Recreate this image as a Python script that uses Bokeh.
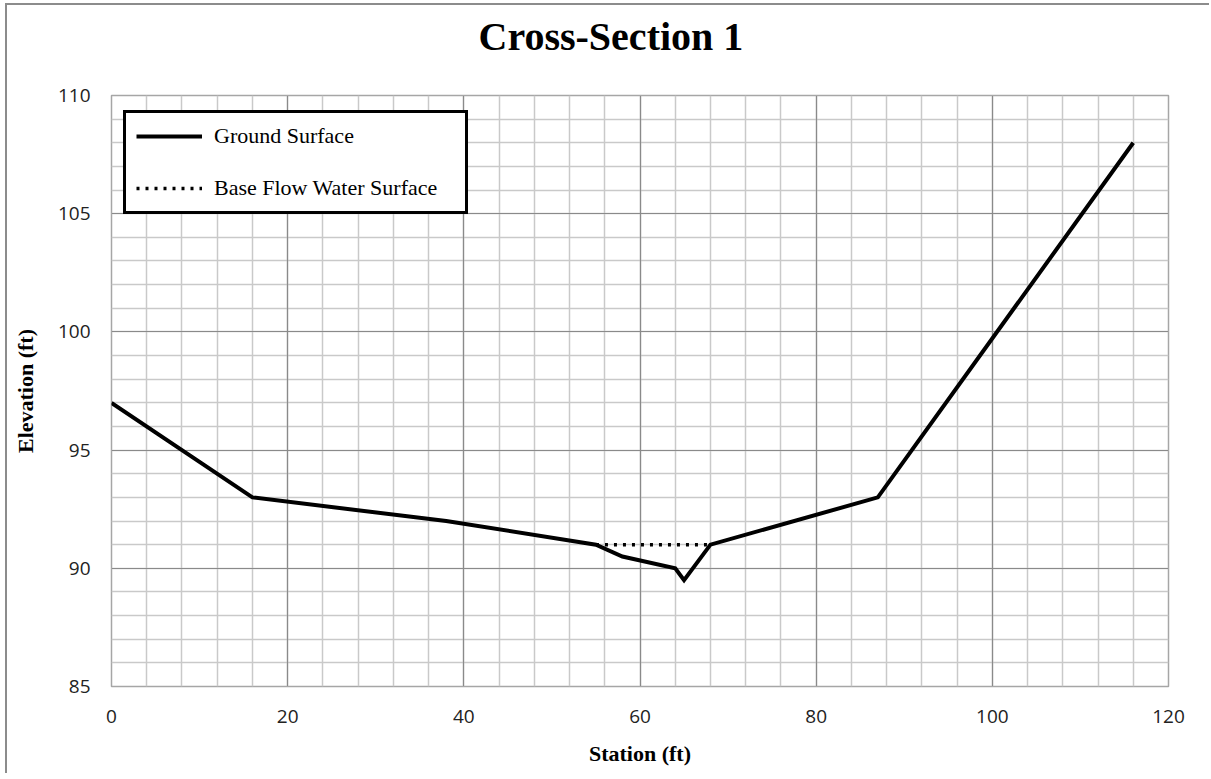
from bokeh.plotting import figure
from bokeh.models import Range1d, SingleIntervalTicker, Grid, Legend, LegendItem, Title
from bokeh.embed import file_html
from bokeh.resources import INLINE

# Data
station = [0, 16, 38, 55, 58, 64, 65, 68, 87, 116]
elevation = [97, 93, 92, 91, 90.5, 90, 89.5, 91, 93, 108]
water_station = [55, 68]
water_elevation = [91, 91]

title_text = "Cross-Section 1"
x_label = "Station (ft)"
y_label = "Elevation (ft)"
series_names = ["Ground Surface", "Base Flow Water Surface"]

p = figure(width=1204, height=770, output_backend="svg", toolbar_location=None,
           x_range=Range1d(0, 120), y_range=Range1d(85, 110),
           min_border_left=104, min_border_right=43, min_border_top=90, min_border_bottom=89)
p.title = None

p.styles = {"box-shadow": "-2px -2px 0 0 #8c8c8c",
            "margin-left": "7px", "margin-top": "5px",
            "clip-path": "inset(-3px 0px 0px -3px)"}

# spacer panel next to the frame, then the chart title above it
p.add_layout(Title(text=" ", text_font_size="1px", standoff=34), "above")
p.add_layout(Title(text=title_text, align="left", text_font="Liberation Serif",
                   text_font_size="40px", text_font_style="bold", text_color="black",
                   offset=367, standoff=0), "above")

xt = SingleIntervalTicker(interval=20, num_minor_ticks=5)
yt = SingleIntervalTicker(interval=5, num_minor_ticks=5)
p.xaxis.ticker = xt
p.yaxis.ticker = yt

# minor grids from default grids
p.xgrid.ticker = xt
p.ygrid.ticker = yt
for g in (p.xgrid[0], p.ygrid[0]):
    g.grid_line_color = None
    g.minor_grid_line_color = "#c9c9c9"
    g.minor_grid_line_width = 1.5
# major grids on top
p.add_layout(Grid(dimension=0, ticker=xt, grid_line_color="#8a8a8a", grid_line_width=1.2))
p.add_layout(Grid(dimension=1, ticker=yt, grid_line_color="#8a8a8a", grid_line_width=1.2))

p.outline_line_color = "#a6a6a6"
p.outline_line_width = 1.5

for ax in (p.xaxis[0], p.yaxis[0]):
    ax.axis_line_color = None
    ax.major_tick_line_color = None
    ax.minor_tick_line_color = None
    ax.major_tick_out = 0
    ax.major_tick_in = 0
    ax.minor_tick_out = 0
    ax.major_label_text_font = "Open Sans"
    ax.major_label_text_font_size = "19px"
    ax.major_label_text_color = "#222222"
    ax.axis_label_text_font = "Liberation Serif"
    ax.axis_label_text_font_style = "bold"
    ax.axis_label_text_font_size = "22px"
    ax.axis_label_text_color = "black"

p.xaxis.axis_label = x_label
p.yaxis.axis_label = y_label
p.xaxis.major_label_standoff = 23
p.yaxis.major_label_standoff = 21
p.xaxis.axis_label_standoff = 15
p.yaxis.axis_label_standoff = 17

r1 = p.line(station, elevation, line_color="black", line_width=4, line_join="miter")
r2 = p.line(water_station, water_elevation, line_color="black", line_width=3.5,
            line_dash="3 6")

legend = Legend(items=[LegendItem(label=series_names[0], renderers=[r1]),
                       LegendItem(label=series_names[1], renderers=[r2])],
                location=(12, 472), orientation="vertical",
                border_line_color="black", border_line_width=3.5, border_line_alpha=1.0,
                background_fill_color="white", background_fill_alpha=1.0,
                label_text_font="Liberation Serif", label_text_font_size="22px",
                label_text_color="black",
                glyph_width=66, glyph_height=16, label_height=26, label_standoff=12,
                label_width=241, padding=10, spacing=26, margin=0)
p.add_layout(legend, "center")

open("out.html", "w").write(file_html(p, INLINE))
